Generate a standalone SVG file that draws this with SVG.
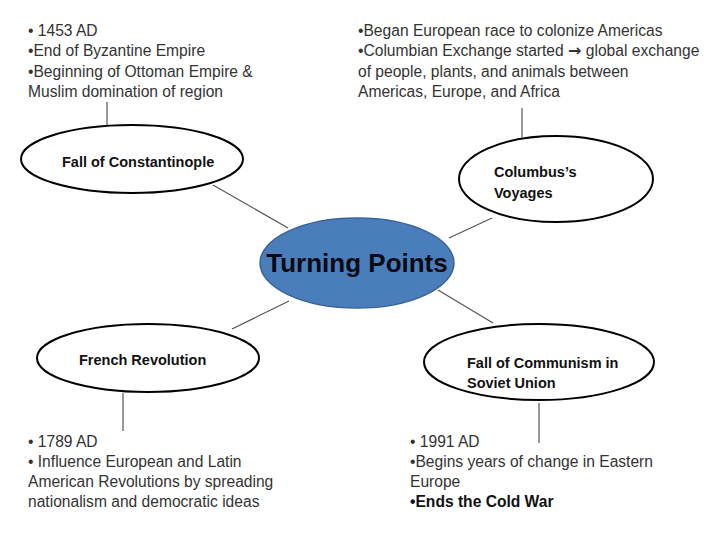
<svg xmlns="http://www.w3.org/2000/svg" width="720" height="540" viewBox="0 0 720 540">
<style>
.node{fill:#fff;stroke:#000;stroke-width:2}
.lbl{font-family:"Liberation Sans",Arial,sans-serif;font-weight:bold;font-size:14.5px;fill:#111}
.body{font-family:"Liberation Sans",Arial,sans-serif;font-size:15.6px;fill:#333}
.conn line{stroke:#555;stroke-width:1.2}
</style>
<rect width="720" height="540" fill="#fff"/>
<g id="connectors" class="conn">
<line x1="213" y1="185" x2="288" y2="228"/>
<line x1="492" y1="218" x2="449" y2="238"/>
<line x1="232" y1="329" x2="289" y2="301"/>
<line x1="438" y1="290" x2="493" y2="323"/>
<line x1="107" y1="102" x2="107" y2="125"/>
<line x1="522" y1="108" x2="522" y2="137"/>
<line x1="123" y1="393" x2="123" y2="431"/>
<line x1="539" y1="403" x2="539" y2="443"/>
</g>
<g id="center">
<ellipse cx="357" cy="263" rx="97" ry="45" fill="#4a7ebb" stroke="#3a6497" stroke-width="1.5"/>
<text x="357" y="272" text-anchor="middle" font-family="'Liberation Sans',Arial,sans-serif" font-weight="bold" font-size="26" fill="#0a0a14">Turning Points</text>
</g>
<g id="constantinople">
<ellipse class="node" cx="132" cy="159" rx="111" ry="34"/>
<text class="lbl" x="62" y="167">Fall of Constantinople</text>
</g>
<g id="columbus">
<ellipse class="node" cx="556" cy="179" rx="97" ry="43"/>
<text class="lbl" x="494" y="177">Columbus’s</text>
<text class="lbl" x="494" y="198">Voyages</text>
</g>
<g id="french">
<ellipse class="node" cx="148" cy="358" rx="111" ry="34"/>
<text class="lbl" x="79" y="365">French Revolution</text>
</g>
<g id="communism">
<ellipse class="node" cx="539" cy="362" rx="115" ry="38"/>
<text class="lbl" x="467" y="368">Fall of Communism in</text>
<text class="lbl" x="467" y="388">Soviet Union</text>
</g>
<g id="note-constantinople" class="body">
<text x="28" y="36">•  1453 AD</text>
<text x="28" y="56">•End of Byzantine Empire</text>
<text x="28" y="77">•Beginning of Ottoman Empire &amp;</text>
<text x="28" y="97">Muslim domination of region</text>
</g>
<g id="note-columbus" class="body">
<text x="358" y="36">•Began European race to colonize Americas</text>
<text x="358" y="56">•Columbian Exchange started <tspan font-family="'DejaVu Sans',sans-serif" font-weight="bold" font-size="16">→</tspan> global exchange</text>
<text x="358" y="77">of people, plants, and animals between</text>
<text x="358" y="97">Americas, Europe, and Africa</text>
</g>
<g id="note-french" class="body">
<text x="28" y="447">•  1789 AD</text>
<text x="28" y="467">• Influence European and Latin</text>
<text x="28" y="487">American Revolutions by spreading</text>
<text x="28" y="507">nationalism and democratic ideas</text>
</g>
<g id="note-communism" class="body">
<text x="410" y="447">•  1991 AD</text>
<text x="410" y="467">•Begins years of change in Eastern</text>
<text x="410" y="487">Europe</text>
<text x="410" y="507" font-weight="bold" fill="#111">•Ends the Cold War</text>
</g>
</svg>
